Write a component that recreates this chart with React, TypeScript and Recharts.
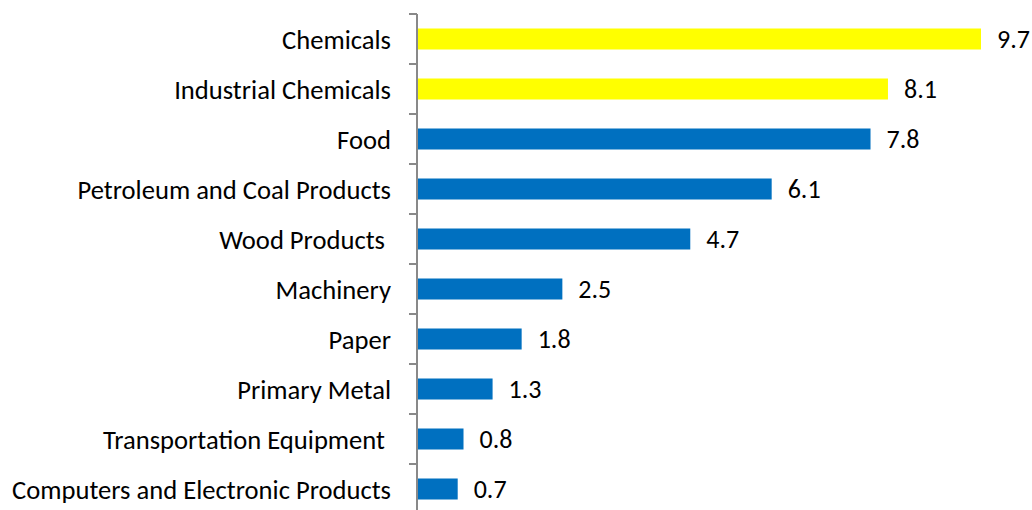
import { BarChart, Bar, XAxis, YAxis, Cell, LabelList } from "recharts";

const categories = [
  "Chemicals",
  "Industrial Chemicals",
  "Food",
  "Petroleum and Coal Products",
  "Wood Products ",
  "Machinery",
  "Paper",
  "Primary Metal",
  "Transportation Equipment ",
  "Computers and Electronic Products",
];
const values = [9.7, 8.1, 7.8, 6.1, 4.7, 2.5, 1.8, 1.3, 0.8, 0.7];
const highlighted = ["Chemicals", "Industrial Chemicals"];

const data = categories.map((name, i) => ({ name, value: values[i] }));

const FONT = "Calibri, Carlito, Lato, sans-serif";
const AXIS_GRAY = "#898989";
const TICK_MARGIN = 18;
const TICK_LEN = 8;

function CategoryTick(props: any) {
  const { x, y, payload } = props;
  const half = payload?.offset ?? 25;
  const lineX = x + TICK_MARGIN;
  return (
    <g>
      <line
        x1={lineX}
        x2={lineX + TICK_LEN}
        y1={y - half}
        y2={y - half}
        stroke={AXIS_GRAY}
        strokeWidth={2}
      />
      <text
        x={x}
        y={y + 1}
        textAnchor="end"
        dominantBaseline="central"
        fontSize={26.6}
        fontFamily={FONT}
        fill="#000"
        style={{ whiteSpace: "pre" }}
      >
        {payload.value}
      </text>
    </g>
  );
}

export default function App() {
  return (
    <div
      style={{
        position: "absolute",
        left: 0,
        top: 0,
        width: 1032,
        height: 510,
        overflow: "hidden",
        background: "#fff",
      }}
    >
      <BarChart
        width={1032}
        height={520}
        data={data}
        layout="vertical"
        margin={{ top: 14, right: 51, bottom: 6, left: 0 }}
        barCategoryGap="29%"
      >
        <XAxis type="number" domain={[0, 9.7]} hide />
        <YAxis
          type="category"
          dataKey="name"
          width={417}
          axisLine={{ stroke: AXIS_GRAY, strokeWidth: 2 }}
          tickLine={false}
          tickSize={TICK_LEN}
          tickMargin={TICK_MARGIN}
          tick={<CategoryTick />}
          interval={0}
        />
        <Bar dataKey="value" isAnimationActive={false}>
          {data.map((d) => (
            <Cell
              key={d.name}
              fill={highlighted.includes(d.name) ? "#FFFF00" : "#0070C0"}
            />
          ))}
          <LabelList
            dataKey="value"
            position="right"
            offset={16}
            fill="#000"
            fontSize={26}
            fontFamily={FONT}
          />
        </Bar>
      </BarChart>
    </div>
  );
}
